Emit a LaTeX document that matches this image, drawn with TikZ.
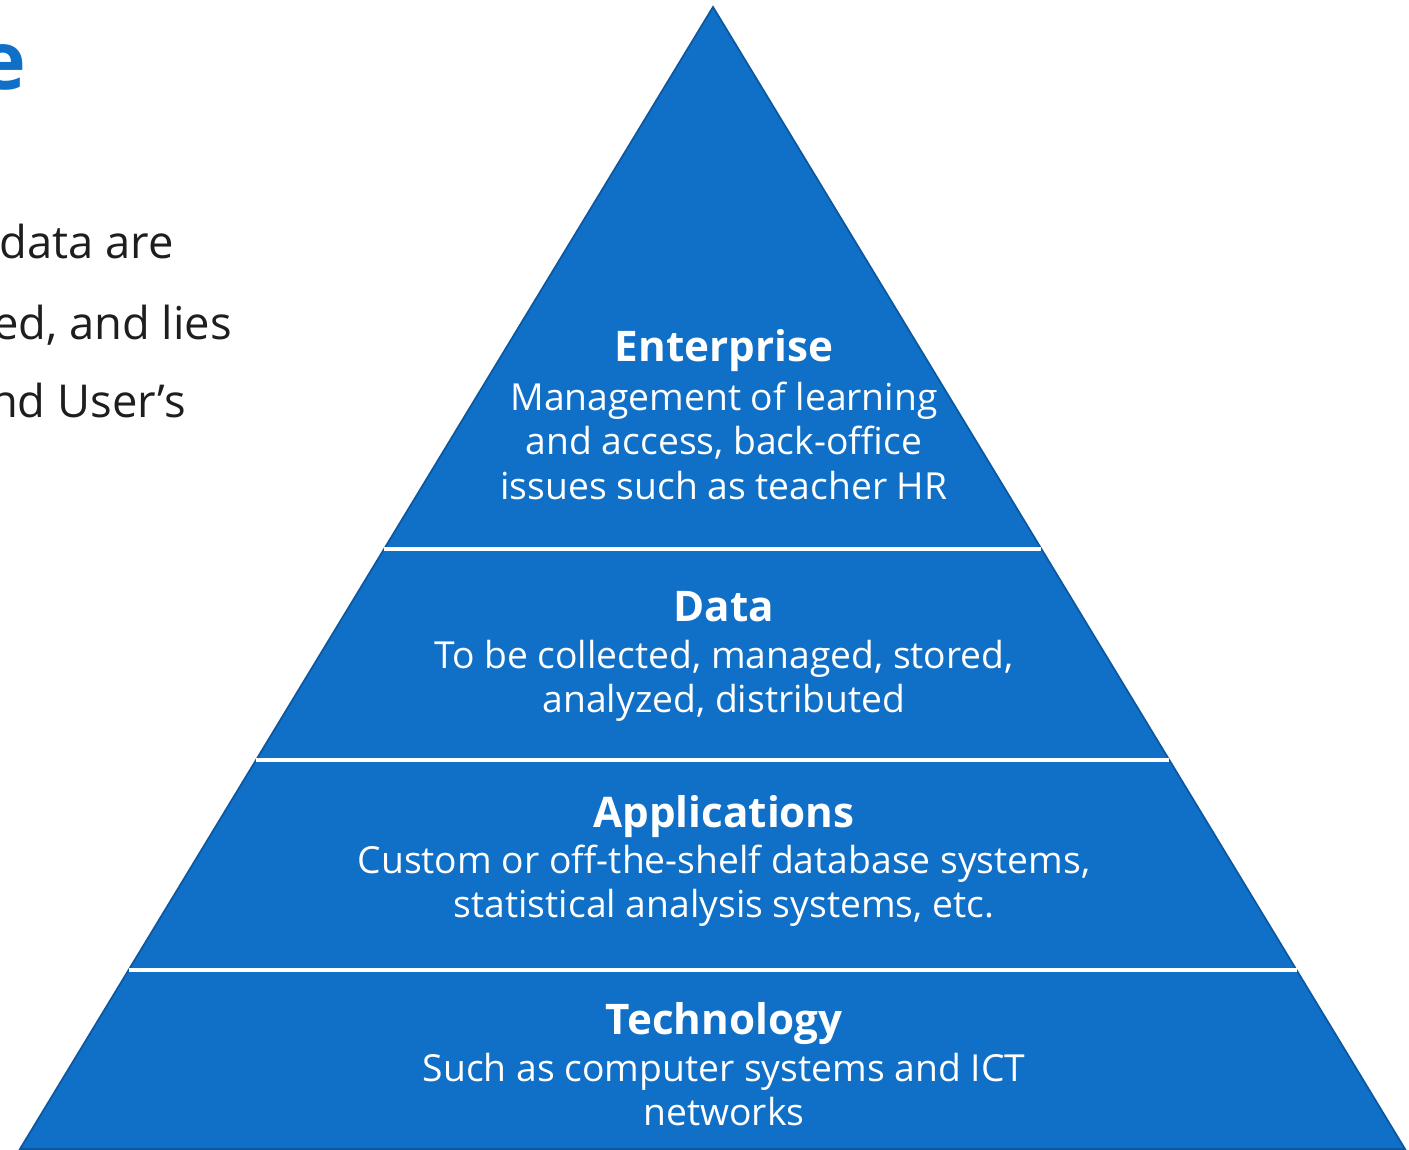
\documentclass[tikz,border=0pt]{standalone}
\usepackage{fontspec}
\setmainfont{Open Sans}
\usetikzlibrary{calc}
\definecolor{pyblue}{RGB}{16,111,198}
\definecolor{pyedge}{RGB}{12,88,160}
\definecolor{bodygray}{RGB}{30,30,30}

\begin{document}
\begin{tikzpicture}[
    head/.style={text=white,font=\fontsize{24}{29}\selectfont\bfseries},
    body/.style={text=white,align=center,font=\fontsize{21.2}{25.3}\selectfont},
    side/.style={anchor=base east,text=bodygray,font=\fontsize{25.8}{30}\selectfont}]

      \useasboundingbox (0,0) rectangle (28.18,22.98);
      \clip (0,0) rectangle (28.18,22.98);

      % the pyramid
      \coordinate (L) at (0.4,0);
      \coordinate (R) at (28.1,0);
      \coordinate (A) at (14.26,22.84);
      \draw[fill=pyblue,draw=pyedge,line width=1pt] (L) -- (A) -- (R) -- cycle;

      \foreach \h in {3.58,7.78,12.0}{
        \pgfmathsetmacro{\t}{\h/22.84}
        \draw[white,line width=2pt] ($(L)!\t!(A)$) -- ($(R)!\t!(A)$);
      }

      % layer texts
      \node[head] (enterprise) at (14.48,15.96) {Enterprise};
      \node[body] (enterprise-text) at (14.48,14.17) {Management of learning\\and access, back-office\\issues such as teacher HR};

      \node[head] (data) at (14.48,10.84) {Data};
      \node[body] (data-text) at (14.48,9.36) {To be collected, managed, stored,\\analyzed, distributed};

      \node[head] (apps) at (14.48,6.64) {Applications};
      \node[body] (apps-text) at (14.48,5.27) {Custom or off-the-shelf database systems,\\statistical analysis systems, etc.};

      \node[head] (tech) at (14.48,2.5) {Technology};
      \node[body] (tech-text) at (14.48,1.19) {Such as computer systems and ICT\\networks};

      % cut off slide text on the left
      \node[anchor=base east,text=pyblue,font=\fontsize{46}{50}\selectfont\bfseries] (title) at (0.64,21.18) {e};
      \node[side] (line-a) at (3.6,17.8) {data are};
      \node[side] (line-b) at (4.76,16.18) {ed, and lies};
      \node[side] (line-c) at (3.84,14.62) {nd User’s};

    \end{tikzpicture}
\end{document}
